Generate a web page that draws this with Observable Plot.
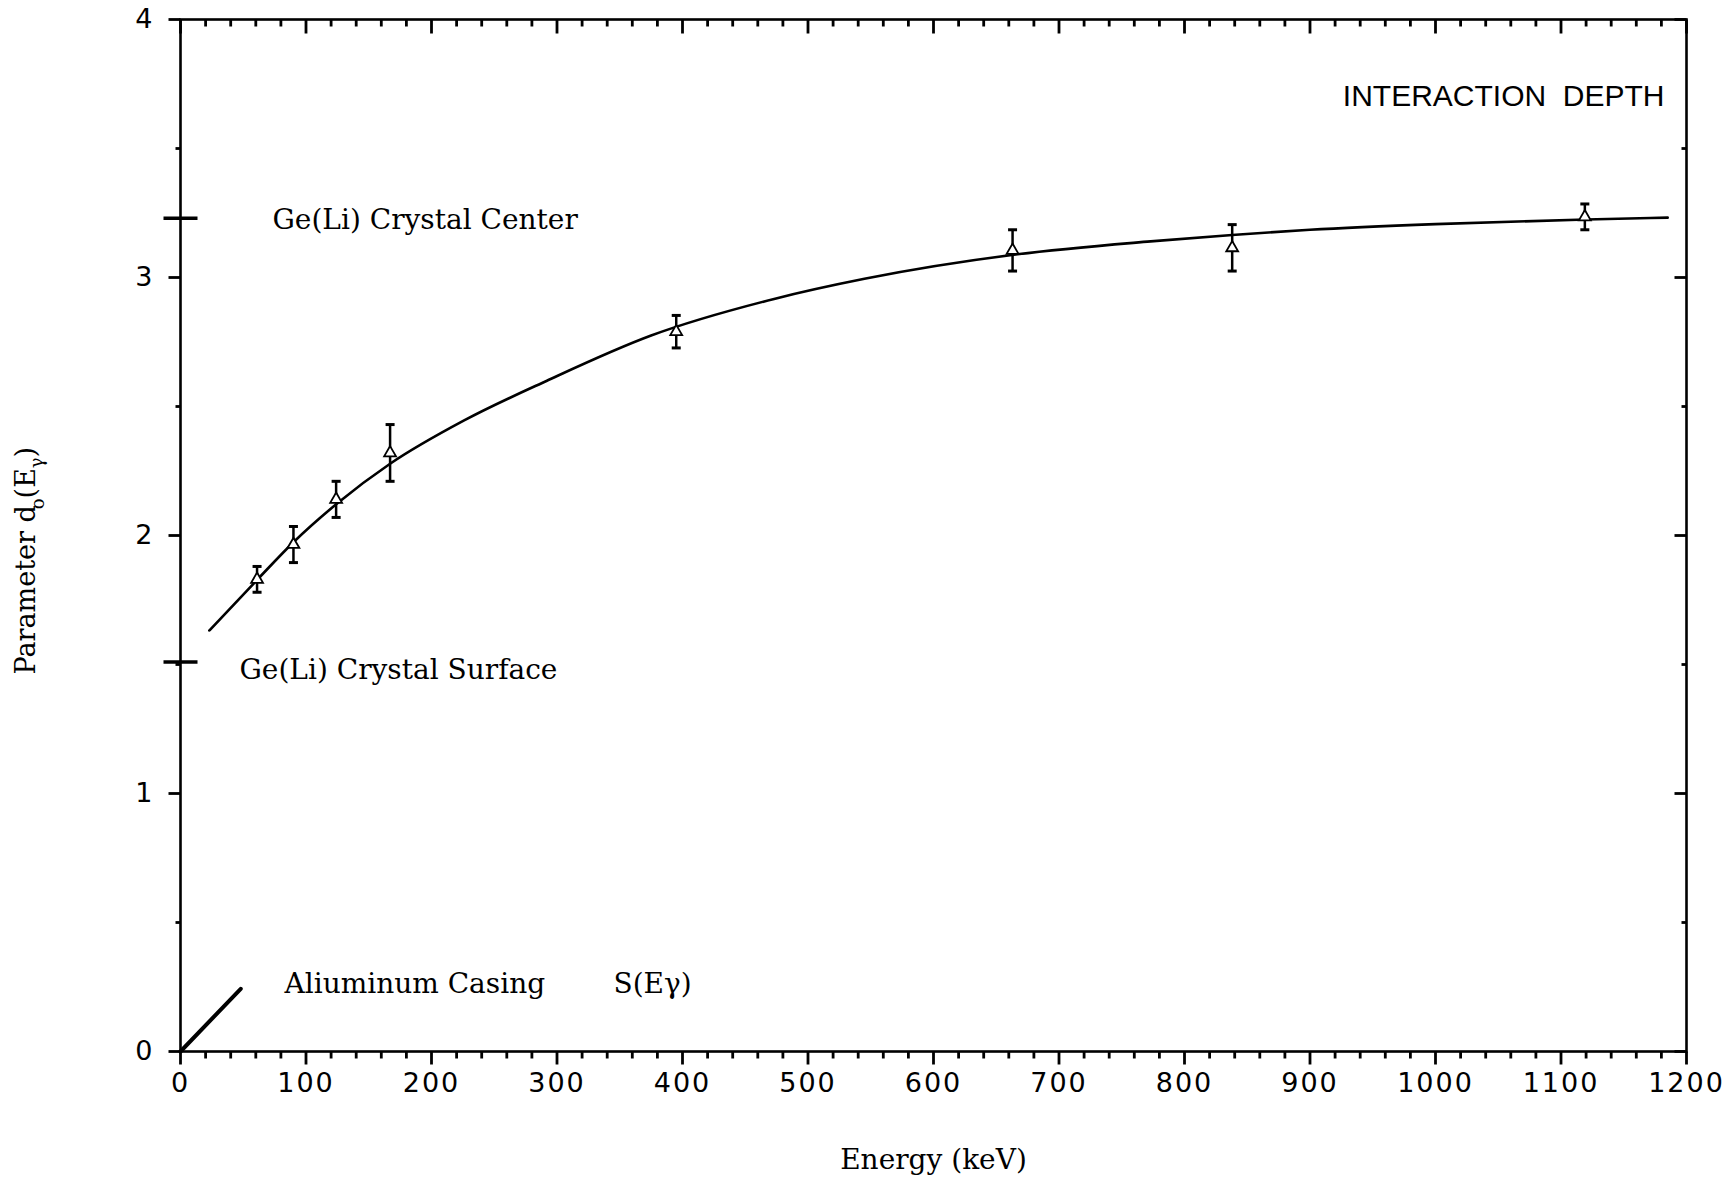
<!DOCTYPE html>
<html>
<head>
<meta charset="utf-8">
<script src="https://cdn.jsdelivr.net/npm/d3@7"></script>
<script src="https://cdn.jsdelivr.net/npm/@observablehq/plot@0.6"></script>
<style>
  html, body { margin: 0; padding: 0; background: white; }
  #chart svg { display: block; }
</style>
</head>
<body>
<div id="chart"></div>
<script>
// ---- Data ----
// Measured points (gamma energy in keV, parameter d0, error)
const pointEnergy = [61, 90, 124, 167, 395, 663, 838, 1119];
const pointDepth  = [1.83, 1.965, 2.14, 2.32, 2.79, 3.105, 3.115, 3.235];
const pointError  = [0.05, 0.07, 0.07, 0.11, 0.063, 0.08, 0.09, 0.05];

// Fitted curve
const curveEnergy = [23, 62, 90, 125, 167, 226, 292, 375, 473, 545, 667, 773, 838, 900, 1000, 1120, 1185];
const curveDepth  = [1.632, 1.833, 1.974, 2.125, 2.278, 2.446, 2.60, 2.775, 2.917, 2.995, 3.09, 3.14, 3.165, 3.185, 3.207, 3.225, 3.232];

// Aluminium casing line S(Eγ)
const casingEnergy = [0, 48];
const casingDepth  = [0, 0.243];

// Ge(Li) crystal reference levels
const levelLabels = ["Ge(Li) Crystal Center", "Ge(Li) Crystal Surface"];
const levelDepths = [3.23, 1.51];

// Ticks
const xTicks = [0, 100, 200, 300, 400, 500, 600, 700, 800, 900, 1000, 1100, 1200];
const xMinorTicks = d3.range(0, 1201, 20).filter(v => v % 100 !== 0);
const yTicks = [0, 1, 2, 3, 4];
const yMinorTicks = [0.5, 1.5, 2.5, 3.5];

const title = "INTERACTION  DEPTH";
const xLabel = "Energy (keV)";
const yLabel = "Parameter d(Eγ)";
const casingLabel = "Aliuminum Casing";
const casingSymbolLabel = "S(Eγ)";

// ---- Build tables ----
const points = pointEnergy.map((e, i) => ({energy: e, depth: pointDepth[i], err: pointError[i]}));
const curve = curveEnergy.map((e, i) => ({energy: e, depth: curveDepth[i]}));
const casing = casingEnergy.map((e, i) => ({energy: e, depth: casingDepth[i]}));
const levels = levelLabels.map((l, i) => ({label: l, depth: levelDepths[i]}));

const xMin = xTicks[0], xMax = xTicks[xTicks.length - 1];
const yMin = yTicks[0], yMax = yTicks[yTicks.length - 1];

// symbols
const dash = {
  draw(context, size) {
    const r = Math.sqrt(size / Math.PI);
    context.moveTo(-r, 0);
    context.lineTo(r, 0);
  }
};
const hTick = (len) => ({draw(context) { context.moveTo(0, 0); context.lineTo(len, 0); }});
const vTick = (len) => ({draw(context) { context.moveTo(0, 0); context.lineTo(0, len); }});

const serif = "'DejaVu Serif', serif";
const sans = "'DejaVu Sans', sans-serif";
const tickStroke = {stroke: "black", strokeWidth: 2.8};

const chart = Plot.plot({
  width: 1726,
  height: 1180,
  marginLeft: 180,
  marginRight: 40,
  marginTop: 19,
  marginBottom: 129,
  style: {background: "white", color: "black", overflow: "visible"},
  x: {domain: [xMin, xMax]},
  y: {domain: [yMin, yMax]},
  marks: [
    Plot.frame({stroke: "black", strokeWidth: 2.6}),
    // tick labels
    Plot.axisX({anchor: "bottom", ticks: xTicks, tickSize: 0, tickPadding: 21, tickFormat: d3.format("d"),
      fontSize: 27, fontFamily: sans, label: null}),
    Plot.axisY({anchor: "left", ticks: yTicks, tickSize: 0, tickPadding: 26, tickFormat: d3.format("d"),
      fontSize: 27, fontFamily: sans, label: null}),
    // x tick marks: bottom (outward), top (inward)
    Plot.dot(xTicks, {x: d => d, y: () => yMin, symbol: vTick(13), ...tickStroke}),
    Plot.dot(xMinorTicks, {x: d => d, y: () => yMin, symbol: vTick(7), ...tickStroke}),
    Plot.dot(xTicks, {x: d => d, y: () => yMax, symbol: vTick(14), ...tickStroke}),
    Plot.dot(xMinorTicks, {x: d => d, y: () => yMax, symbol: vTick(7), ...tickStroke}),
    // y tick marks: left (outward), right (inward)
    Plot.dot(yTicks, {x: () => xMin, y: d => d, symbol: hTick(-12), ...tickStroke}),
    Plot.dot(yMinorTicks, {x: () => xMin, y: d => d, symbol: hTick(-5), ...tickStroke}),
    Plot.dot(yTicks, {x: () => xMax, y: d => d, symbol: hTick(-12), ...tickStroke}),
    Plot.dot(yMinorTicks, {x: () => xMax, y: d => d, symbol: hTick(-5), ...tickStroke}),

    // crystal level markers across the left axis
    Plot.dot(levels, {x: () => xMin, y: "depth", symbol: dash, r: 17, stroke: "black", strokeWidth: 3.5}),
    Plot.text([levels[0]], {x: () => xMin, y: "depth", text: "label", textAnchor: "start", dx: 92, dy: 2,
      fontSize: 28, fontFamily: serif, fill: "black"}),
    Plot.text([levels[1]], {x: () => xMin, y: "depth", text: "label", textAnchor: "start", dx: 59, dy: 8,
      fontSize: 28, fontFamily: serif, fill: "black"}),

    // casing line
    Plot.line(casing, {x: "energy", y: "depth", stroke: "black", strokeWidth: 4}),
    Plot.text([casingLabel], {frameAnchor: "bottom-left", textAnchor: "start", dx: 104, dy: -59,
      fontSize: 28, fontFamily: serif, fill: "black"}),
    Plot.text([casingSymbolLabel], {frameAnchor: "bottom-left", textAnchor: "start", dx: 433, dy: -59,
      fontSize: 28, fontFamily: serif, fill: "black"}),

    // fitted curve
    Plot.line(curve, {x: "energy", y: "depth", curve: "monotone-x", stroke: "black", strokeWidth: 2.6}),

    // error bars
    Plot.ruleX(points, {x: "energy", y1: d => d.depth - d.err, y2: d => d.depth + d.err, stroke: "black", strokeWidth: 2.5}),
    Plot.dot(points, {x: "energy", y: d => d.depth - d.err, symbol: dash, r: 4.5, stroke: "black", strokeWidth: 3}),
    Plot.dot(points, {x: "energy", y: d => d.depth + d.err, symbol: dash, r: 4.5, stroke: "black", strokeWidth: 3}),
    // triangles
    Plot.dot(points, {x: "energy", y: "depth", symbol: "triangle", r: 4.4, fill: "white", stroke: "black", strokeWidth: 1.8}),

    // title inside frame
    Plot.text([title], {frameAnchor: "top-right", textAnchor: "end", dx: -22, dy: 65,
      fontSize: 30, fontFamily: "'Liberation Sans', sans-serif", fill: "black"}),

    // axis labels
    Plot.text([xLabel], {frameAnchor: "bottom", dy: 117, fontSize: 28, fontFamily: serif, fill: "black"}),
    Plot.text([yLabel], {frameAnchor: "left", textAnchor: "start", dx: -154, dy: 139, rotate: -90,
      fontSize: 27, fontFamily: serif, fill: "black"})
  ]
});

// add subscripts to the y label: d_o(E_γ)
d3.select(chart).selectAll("text").filter(function() { return this.textContent === yLabel; }).each(function() {
  const t = d3.select(this);
  t.text(null);
  t.append("tspan").text("Parameter d");
  t.append("tspan").attr("font-size", 18).attr("dy", 9).attr("dx", -4).text("o");
  t.append("tspan").attr("dy", -9).text("(E");
  t.append("tspan").attr("font-size", 18).attr("dy", 8).text("γ");
  t.append("tspan").attr("dy", -8).text(")");
});
// plotter-like spacing of tick labels
d3.select(chart).selectAll("g[aria-label$='tick label']").style("letter-spacing", "2px");

document.getElementById("chart").appendChild(chart);
</script>
</body>
</html>
